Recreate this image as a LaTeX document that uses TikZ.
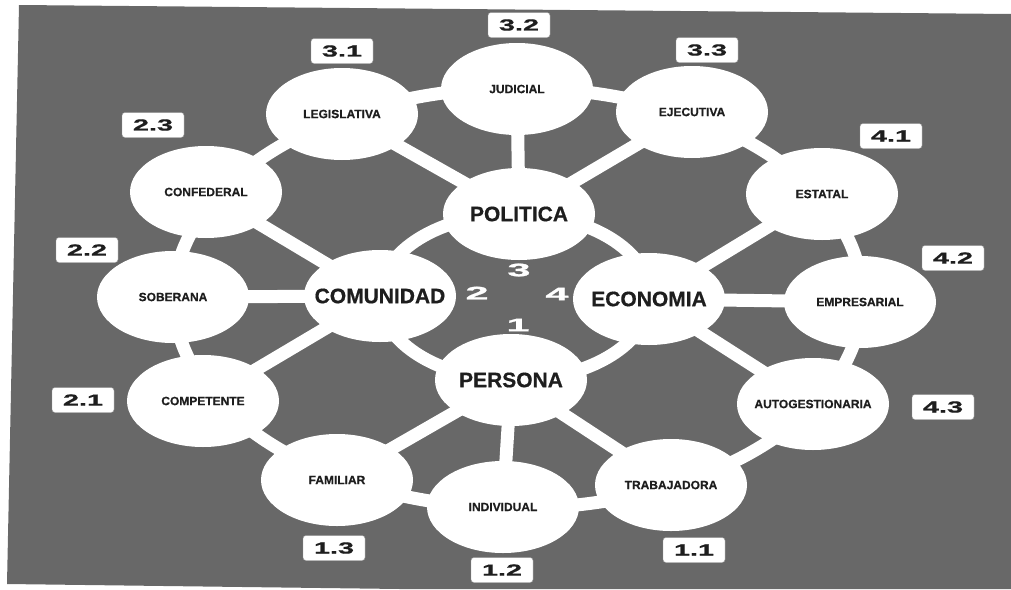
\documentclass[tikz,border=0pt]{standalone}
\usepackage{fontspec}
\usetikzlibrary{shapes.geometric,backgrounds}
\setmainfont{Liberation Sans}[FakeBold=0.6]
\newfontfamily\numfont[FakeStretch=1.8,FakeBold=0.8]{Liberation Sans}
\newfontfamily\bignumfont[FakeStretch=2.3,FakeBold=1.5]{Liberation Sans}
\definecolor{bg}{RGB}{104,104,104}
\definecolor{ink}{RGB}{30,30,30}
\newcommand\ztx[1]{\makebox[0pt]{#1}}
\begin{document}
\begin{tikzpicture}[x=1pt,y=-1pt,
  bub/.style={ellipse, fill=white, minimum width=152pt, minimum height=92pt, inner sep=0pt, text=ink, font=\bfseries\fontsize{12}{12}\selectfont},
  hub/.style={bub, font=\bfseries\fontsize{21}{21}\selectfont},
  lnk/.style={draw=white, line width=13pt},
  tag/.style={fill=white, draw=black!40, line width=0.4pt, rounded corners=3pt, minimum width=62pt, minimum height=25pt, inner sep=0pt, text=ink, font=\numfont\bfseries\fontsize{16}{16}\selectfont},
  cnum/.style={text=white, inner sep=0pt, font=\bignumfont\bfseries\fontsize{18}{18}\selectfont}]
\useasboundingbox (0,0) rectangle (1011,589);
% hubs
\node[hub] (pol) at (519,214) {\ztx{POLITICA}};
\node[hub] (com) at (380,296) {\ztx{COMUNIDAD}};
\node[hub] (eco) at (649,299) {\ztx{ECONOMIA}};
\node[hub] (per) at (511,380) {\ztx{PERSONA}};
% outer
\node[bub] (jud) at (517,89) {\ztx{JUDICIAL}};
\node[bub] (leg) at (342,114) {\ztx{LEGISLATIVA}};
\node[bub] (eje) at (692,112) {\ztx{EJECUTIVA}};
\node[bub] (conf) at (206,192) {\ztx{CONFEDERAL}};
\node[bub] (est) at (822,194) {\ztx{ESTATAL}};
\node[bub] (sob) at (173,297) {\ztx{SOBERANA}};
\node[bub] (emp) at (860,302) {\ztx{EMPRESARIAL}};
\node[bub] (compe) at (203,401) {\ztx{COMPETENTE}};
\node[bub] (auto) at (813,404) {\ztx{AUTOGESTIONARIA}};
\node[bub] (fam) at (337,480) {\ztx{FAMILIAR}};
\node[bub] (ind) at (503,507) {\ztx{INDIVIDUAL}};
\node[bub] (tra) at (671,485) {\ztx{TRABAJADORA}};
\coordinate (ic) at (515,297);
\coordinate (oc) at (518,298);
\begin{pgfonlayer}{background}
\fill[bg] (19,5) -- (1011,14) -- (1011,589) -- (400,589) -- (7,584) -- cycle;
\draw[lnk] (ic) ellipse [x radius=135, y radius=83];
\draw[lnk] (oc) ellipse [x radius=344, y radius=210];
\draw[lnk] (pol.center) -- (jud.center);
\draw[lnk] (pol.center) -- (leg.center);
\draw[lnk] (pol.center) -- (eje.center);
\draw[lnk] (com.center) -- (conf.center);
\draw[lnk] (com.center) -- (sob.center);
\draw[lnk] (com.center) -- (compe.center);
\draw[lnk] (eco.center) -- (est.center);
\draw[lnk] (eco.center) -- (emp.center);
\draw[lnk] (eco.center) -- (auto.center);
\draw[lnk] (per.center) -- (fam.center);
\draw[lnk] (per.center) -- (ind.center);
\draw[lnk] (per.center) -- (tra.center);
\end{pgfonlayer}
% center numbers
\node[cnum] (n3) at (519,270) {3};
\node[cnum] (n2) at (477,293) {2};
\node[cnum] (n4) at (557,294) {4};
\node[cnum] (n1) at (518,325) {1};
% tags
\node[tag] (t32) at (519,25) {3.2};
\node[tag] (t31) at (342,51) {3.1};
\node[tag] (t33) at (707,50) {3.3};
\node[tag] (t23) at (153,125) {2.3};
\node[tag] (t22) at (87,250) {2.2};
\node[tag] (t21) at (83,400) {2.1};
\node[tag] (t41) at (891,136) {4.1};
\node[tag] (t42) at (953,258) {4.2};
\node[tag] (t43) at (943,407) {4.3};
\node[tag] (t13) at (334,548) {1.3};
\node[tag] (t12) at (502,570) {1.2};
\node[tag] (t11) at (694,550) {1.1};
\end{tikzpicture}
\end{document}
